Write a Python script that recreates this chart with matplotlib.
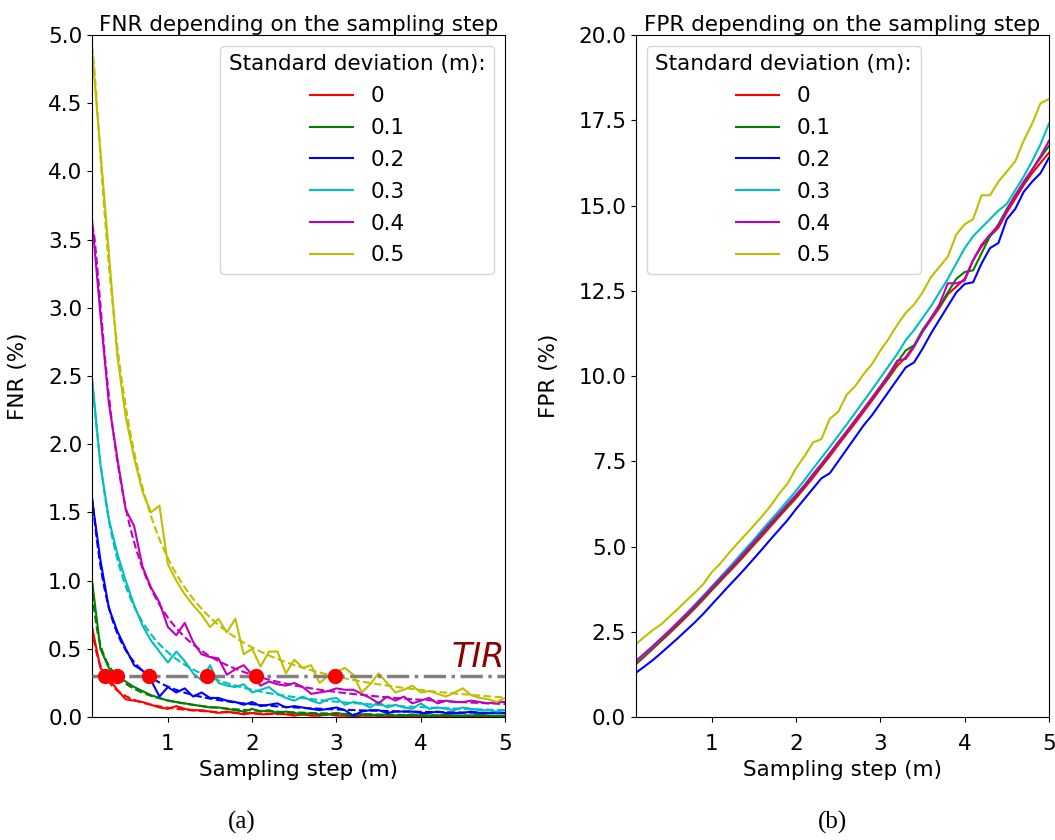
import numpy as np
import matplotlib
matplotlib.use("Agg")
import matplotlib.pyplot as plt

plt.rcParams['font.family'] = ['DejaVu Sans']
plt.rcParams['font.size'] = 15.5

# sampling steps (m)
steps = [round(0.1 * i, 1) for i in range(1, 51)]
std_labels = ['0', '0.1', '0.2', '0.3', '0.4', '0.5']
colors = ['r', 'g', 'b', 'c', 'm', 'y']
tir = 0.3

# FNR (%) per standard deviation
fnr_0 = [0.66, 0.36, 0.28, 0.20, 0.13, 0.12, 0.11, 0.09, 0.07, 0.06,
         0.08, 0.06, 0.05, 0.05, 0.04, 0.03, 0.04, 0.03, 0.02, 0.03,
         0.02, 0.02, 0.03, 0.02, 0.01, 0.02, 0.01, 0.01, 0.02, 0.01,
         0.01, 0.00, 0.01, 0.01, 0.01, 0.00, 0.01, 0.01, 0.00, 0.01,
         0.01, 0.00, 0.01, 0.00, 0.01, 0.00, 0.00, 0.01, 0.00, 0.00]
fnr_01 = [1.00, 0.50, 0.36, 0.30, 0.26, 0.22, 0.19, 0.16, 0.14, 0.12,
          0.11, 0.10, 0.09, 0.08, 0.07, 0.07, 0.06, 0.05, 0.04, 0.06,
          0.04, 0.05, 0.03, 0.04, 0.03, 0.02, 0.03, 0.02, 0.02, 0.03,
          0.02, 0.01, 0.02, 0.02, 0.01, 0.02, 0.01, 0.01, 0.02, 0.01,
          0.01, 0.01, 0.02, 0.01, 0.01, 0.01, 0.02, 0.01, 0.01, 0.01]
fnr_02 = [1.60, 1.15, 0.80, 0.63, 0.50, 0.38, 0.34, 0.27, 0.15, 0.22,
          0.18, 0.21, 0.15, 0.18, 0.14, 0.14, 0.12, 0.11, 0.09, 0.11,
          0.08, 0.09, 0.10, 0.07, 0.08, 0.07, 0.06, 0.05, 0.06, 0.07,
          0.05, 0.01, 0.04, 0.05, 0.05, 0.03, 0.04, 0.04, 0.04, 0.03,
          0.03, 0.04, 0.03, 0.03, 0.03, 0.04, 0.03, 0.03, 0.03, 0.03]
fnr_03 = [2.48, 1.85, 1.45, 1.20, 1.00, 0.82, 0.67, 0.56, 0.48, 0.40,
          0.48, 0.41, 0.32, 0.27, 0.38, 0.25, 0.23, 0.22, 0.24, 0.18,
          0.20, 0.22, 0.17, 0.14, 0.12, 0.15, 0.12, 0.10, 0.13, 0.14,
          0.09, 0.11, 0.10, 0.07, 0.11, 0.07, 0.09, 0.07, 0.06, 0.10,
          0.06, 0.07, 0.06, 0.05, 0.07, 0.06, 0.05, 0.05, 0.04, 0.05]
fnr_04 = [3.65, 2.95, 2.30, 1.90, 1.52, 1.40, 1.10, 0.95, 0.84, 0.66,
          0.60, 0.69, 0.55, 0.46, 0.44, 0.43, 0.31, 0.35, 0.38, 0.31,
          0.23, 0.26, 0.24, 0.23, 0.25, 0.22, 0.17, 0.18, 0.19, 0.21,
          0.20, 0.20, 0.17, 0.14, 0.10, 0.15, 0.12, 0.15, 0.10, 0.12,
          0.14, 0.10, 0.12, 0.11, 0.11, 0.12, 0.11, 0.10, 0.11, 0.11]
fnr_05 = [4.90, 4.15, 3.40, 2.65, 2.20, 1.90, 1.65, 1.50, 1.55, 1.12,
          1.00, 0.90, 0.82, 0.75, 0.66, 0.72, 0.62, 0.72, 0.46, 0.50,
          0.37, 0.48, 0.48, 0.32, 0.42, 0.36, 0.38, 0.25, 0.30, 0.33,
          0.36, 0.31, 0.18, 0.24, 0.32, 0.25, 0.18, 0.20, 0.23, 0.18,
          0.19, 0.17, 0.15, 0.18, 0.21, 0.16, 0.14, 0.13, 0.11, 0.14]

# FPR (%) per standard deviation
fpr_0 = [1.55, 1.77, 2.00, 2.23, 2.46, 2.70, 2.94, 3.19, 3.45, 3.72,
         3.98, 4.24, 4.50, 4.77, 5.05, 5.32, 5.60, 5.88, 6.15, 6.42,
         6.72, 7.02, 7.34, 7.65, 7.98, 8.30, 8.62, 8.95, 9.28, 9.62,
         9.95, 10.30, 10.55, 10.90, 11.30, 11.65, 12.00, 12.40, 12.62, 12.85,
         13.40, 13.80, 14.10, 14.35, 14.80, 15.20, 15.60, 15.95, 16.25, 16.55]
fpr_01 = [1.58, 1.80, 2.03, 2.26, 2.50, 2.74, 2.98, 3.23, 3.49, 3.76,
          4.02, 4.28, 4.55, 4.82, 5.10, 5.38, 5.66, 5.93, 6.20, 6.48,
          6.78, 7.10, 7.40, 7.72, 8.05, 8.36, 8.70, 9.02, 9.35, 9.68,
          10.00, 10.40, 10.75, 10.90, 11.35, 11.70, 12.05, 12.45, 12.85, 13.05,
          13.10, 13.60, 14.10, 14.45, 14.90, 15.30, 15.65, 16.05, 16.40, 16.75]
fpr_02 = [1.30, 1.48, 1.67, 1.88, 2.10, 2.32, 2.55, 2.78, 3.03, 3.30,
          3.57, 3.84, 4.10, 4.37, 4.65, 4.93, 5.22, 5.50, 5.78, 6.10,
          6.40, 6.70, 7.00, 7.15, 7.50, 7.85, 8.20, 8.55, 8.85, 9.20,
          9.55, 9.90, 10.25, 10.40, 10.80, 11.25, 11.65, 12.05, 12.45, 12.70,
          12.75, 13.30, 13.75, 13.90, 14.60, 14.90, 15.40, 15.70, 15.95, 16.40]
fpr_03 = [1.62, 1.84, 2.07, 2.30, 2.54, 2.79, 3.04, 3.30, 3.56, 3.83,
          4.10, 4.37, 4.65, 4.93, 5.20, 5.50, 5.78, 6.06, 6.35, 6.64,
          6.95, 7.28, 7.60, 7.92, 8.25, 8.58, 8.92, 9.26, 9.60, 9.95,
          10.30, 10.65, 11.05, 11.35, 11.70, 12.05, 12.45, 12.85, 13.30, 13.75,
          14.10, 14.35, 14.60, 14.85, 15.05, 15.45, 15.85, 16.30, 16.80, 17.40]
fpr_04 = [1.65, 1.86, 2.08, 2.31, 2.54, 2.78, 3.02, 3.27, 3.53, 3.80,
          4.06, 4.32, 4.58, 4.86, 5.14, 5.42, 5.70, 5.97, 6.25, 6.52,
          6.80, 7.12, 7.42, 7.74, 8.06, 8.38, 8.70, 9.03, 9.36, 9.70,
          10.05, 10.45, 10.50, 10.85, 11.30, 11.70, 12.10, 12.72, 12.72, 12.80,
          13.40, 13.85, 14.15, 14.40, 14.85, 15.30, 15.70, 16.05, 16.45, 16.90]
fpr_05 = [2.14, 2.35, 2.55, 2.72, 2.95, 3.18, 3.42, 3.65, 3.90, 4.25,
          4.50, 4.80, 5.08, 5.35, 5.62, 5.90, 6.20, 6.55, 6.85, 7.30,
          7.65, 8.05, 8.15, 8.75, 8.95, 9.45, 9.70, 10.05, 10.35, 10.75,
          11.10, 11.50, 11.85, 12.10, 12.45, 12.90, 13.20, 13.50, 14.15, 14.45,
          14.60, 15.30, 15.30, 15.70, 16.00, 16.30, 16.90, 17.40, 18.00, 18.12]

fnr_all = [fnr_0, fnr_01, fnr_02, fnr_03, fnr_04, fnr_05]
fpr_all = [fpr_0, fpr_01, fpr_02, fpr_03, fpr_04, fpr_05]

fig = plt.figure(figsize=(10.55, 8.4), dpi=100)
ax1 = fig.add_axes([0.0872, 0.1464, 0.3915, 0.8119])
ax2 = fig.add_axes([0.6028, 0.1464, 0.3915, 0.8119])

# FNR panel: measured curves + smooth fit (log-log polynomial)
x = np.array(steps)
xf = np.linspace(0.1, 5, 200)
for vals, c, lab in zip(fnr_all, colors, std_labels):
    y = np.array(vals)
    ax1.plot(x, y, color=c, label=lab, lw=1.5)
    ok = y > 0
    coef = np.polyfit(np.log(x[ok]), np.log(y[ok]), 3, w=np.sqrt(y[ok]))
    yf = np.exp(np.polyval(coef, np.log(xf)))
    ax1.plot(xf, yf, '--', color=c, lw=1.5)
    # crossing of the fit with TIR
    xc = np.interp(tir, yf[::-1], xf[::-1])
    ax1.plot(xc, tir, 'o', color='red', ms=10, zorder=5)

ax1.axhline(tir, color='gray', ls='-.', lw=2.5, zorder=4)
ax1.text(5, tir + 0.015, 'TIR', color='darkred', style='italic', fontsize=24,
         ha='right', va='bottom')

leg_kw = dict(title='Standard deviation (m):', fontsize=15.5,
              title_fontsize=15.5, labelspacing=0.55)
for ax, name in [(ax1, 'FNR'), (ax2, 'FPR')]:
    ax.set_xlim(0.1, 5)
    ax.set_xticks([1, 2, 3, 4, 5])
    ax.tick_params(axis='x', pad=9)
    ax.set_title(name + ' depending on the sampling step', fontsize=15.5, pad=3)
    ax.set_xlabel('Sampling step (m)')
    ax.set_ylabel(name + ' (%)', labelpad=14)

ax1.set_ylim(0, 5)
ax1.set_yticks(np.arange(0, 5.01, 0.5))
ax1.legend(loc='upper right', **leg_kw)

# FPR panel
for vals, c, lab in zip(fpr_all, colors, std_labels):
    ax2.plot(x, vals, color=c, label=lab, lw=1.5)
ax2.set_ylim(0, 20)
ax2.set_yticks(np.arange(0, 20.01, 2.5))
ax2.legend(loc='upper left', **leg_kw)

fig.text(0.2294, 0.021, '(a)', family='Liberation Serif', fontsize=18,
         ha='center', va='center')
fig.text(0.7887, 0.021, '(b)', family='Liberation Serif', fontsize=18,
         ha='center', va='center')

fig.savefig('out.png', dpi=100)
